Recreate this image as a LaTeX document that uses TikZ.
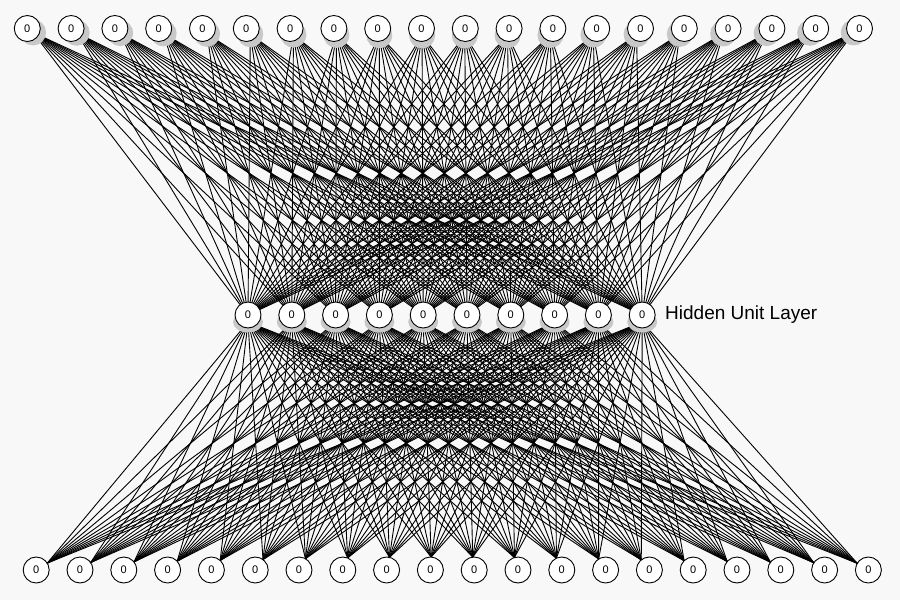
\documentclass[tikz,border=0pt]{standalone}
\usepackage{fontspec}
\setmainfont{Liberation Sans}
\usetikzlibrary{calc,shapes.geometric}
\pgfdeclarelayer{background}
\pgfdeclarelayer{edges}
\pgfsetlayers{background,edges,main}
\definecolor{bg}{RGB}{248,248,248}
\definecolor{shade}{RGB}{200,200,200}
\tikzset{
  unit/.style={circle,draw=black,fill=white,line width=0.9pt,minimum size=26pt,inner sep=0pt,font=\fontsize{11}{11}\selectfont},
  tshadow/.style={circle,fill=shade,minimum size=26pt,inner sep=0pt},
  mshadow/.style={ellipse,fill=shade,minimum width=30pt,minimum height=21pt,inner sep=0pt},
  link/.style={line width=0.9pt,black},
  lbl/.style={anchor=base west,font=\fontsize{19}{19}\selectfont,inner sep=0pt}
}
\begin{document}
\begin{tikzpicture}[x=1pt,y=-1pt]
\begin{pgfonlayer}{background}
\fill[bg] (0,0) rectangle (900,600);
\end{pgfonlayer}
\useasboundingbox (0,0) rectangle (900,600);
\coordinate (mc) at (445,315);
% top layer
\foreach \i in {1,...,20}{
  \pgfmathsetmacro\xx{27.3+43.8*(\i-1)}
  \coordinate (tc\i) at (\xx,28.5);
  \node[tshadow] (ts\i) at ($(tc\i)!7pt!(mc)$) {};
  \node[unit] (t\i) at (tc\i) {0};
}
% hidden layer
\foreach \j in {1,...,10}{
  \pgfmathsetmacro\xx{248+43.8*(\j-1)}
  \node[mshadow] (ms\j) at (\xx,322) {};
  \node[unit] (m\j) at (\xx,315) {0};
}
% bottom layer
\foreach \k in {1,...,20}{
  \pgfmathsetmacro\xx{36.2+43.8*(\k-1)}
  \node[unit] (b\k) at (\xx,570) {0};
  \coordinate (ba\k) at ($(b\k.center)!13pt!(mc)$);
}
\node[lbl] (label) at (665,319) {Hidden Unit Layer};
\begin{pgfonlayer}{edges}
\foreach \i in {1,...,20}{\foreach \j in {1,...,10}{\draw[link] (ts\i.center) -- (m\j.center);}}
\foreach \j in {1,...,10}{\foreach \k in {1,...,20}{\draw[link] (ms\j.center) -- (ba\k);}}
\end{pgfonlayer}
\end{tikzpicture}
\end{document}
